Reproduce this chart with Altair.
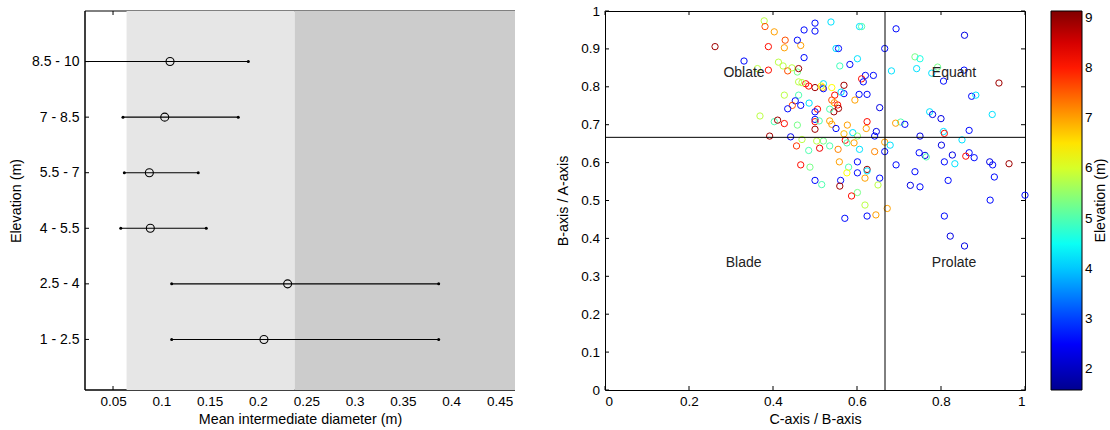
import altair as alt
import pandas as pd

FONT = "Liberation Sans, Arial, Helvetica, sans-serif"

# ---------------- Left panel data ----------------
elev_bins = ["8.5 - 10", "7 - 8.5", "5.5 - 7", "4 - 5.5", "2.5 - 4", "1 - 2.5"]
mean_diam = [0.109, 0.1035, 0.0876, 0.0886, 0.2307, 0.2062]
low_diam = [0.012, 0.0603, 0.0617, 0.0580, 0.1107, 0.1107]
high_diam = [0.190, 0.1796, 0.1382, 0.1465, 0.387, 0.387]
x_ticks_left = [0.05, 0.1, 0.15, 0.2, 0.25, 0.3, 0.35, 0.4, 0.45]
x_domain_left = [0.021, 0.466]
band_start = [0.064, 0.238]
band_end = [0.238, 0.466]
band_color = ["#e6e6e6", "#cccccc"]

# ---------------- Right panel data ----------------
cb_ratio = [
    0.379, 0.381, 0.403, 0.389, 0.429, 0.427, 0.466, 0.458, 0.474, 0.500,
    0.500, 0.538, 0.606, 0.611, 0.550, 0.556, 0.666, 0.693, 0.856, 0.262,
    0.331, 0.363, 0.389, 0.413, 0.424, 0.435, 0.445, 0.458, 0.461, 0.474,
    0.559, 0.583, 0.601, 0.620, 0.639, 0.611, 0.615, 0.682, 0.738, 0.750,
    0.742, 0.792, 0.778, 0.806, 0.855, 0.938, 0.873, 0.883, 0.922, 0.773,
    0.780, 0.800, 0.704, 0.714, 0.692, 0.867, 0.806, 0.808, 0.750, 0.850,
    0.666, 0.666, 0.679, 0.801, 0.748, 0.762, 0.765, 0.827, 0.867, 0.859,
    0.879, 0.808, 0.833, 0.916, 0.923, 0.962, 0.927, 0.693, 0.738, 0.727,
    0.750, 0.817, 1.000, 0.917, 0.654, 0.650, 0.642, 0.654, 0.646, 0.642,
    0.622, 0.624, 0.595, 0.569, 0.569, 0.562, 0.605, 0.624, 0.547, 0.540,
    0.546, 0.554, 0.556, 0.545, 0.535, 0.540, 0.520, 0.518, 0.500, 0.520,
    0.515, 0.478, 0.485, 0.461, 0.469, 0.427, 0.461, 0.453, 0.466, 0.486,
    0.446, 0.435, 0.506, 0.500, 0.500, 0.500, 0.500, 0.510, 0.535, 0.540,
    0.550, 0.577, 0.569, 0.590, 0.601, 0.572, 0.576, 0.593, 0.606, 0.555,
    0.535, 0.520, 0.504, 0.511, 0.485, 0.456, 0.469, 0.442, 0.392, 0.369,
    0.403, 0.411, 0.427, 0.458, 0.466, 0.488, 0.558, 0.601, 0.580, 0.576,
    0.601, 0.624, 0.624, 0.619, 0.500, 0.516, 0.561, 0.559, 0.601, 0.587,
    0.571, 0.624, 0.645, 0.619, 0.672, 0.808, 0.822, 0.856,
]
ba_ratio = [
    0.974, 0.959, 0.945, 0.906, 0.923, 0.903, 0.909, 0.923, 0.950, 0.968,
    0.947, 0.971, 0.959, 0.959, 0.901, 0.901, 0.901, 0.953, 0.936, 0.906,
    0.868, 0.848, 0.844, 0.865, 0.855, 0.842, 0.850, 0.839, 0.848, 0.877,
    0.855, 0.859, 0.874, 0.830, 0.830, 0.821, 0.813, 0.842, 0.879, 0.874,
    0.848, 0.852, 0.836, 0.815, 0.844, 0.810, 0.775, 0.778, 0.727, 0.734,
    0.727, 0.716, 0.707, 0.701, 0.704, 0.685, 0.682, 0.677, 0.670, 0.660,
    0.654, 0.629, 0.646, 0.646, 0.626, 0.619, 0.615, 0.620, 0.626, 0.617,
    0.613, 0.602, 0.597, 0.602, 0.594, 0.597, 0.562, 0.594, 0.576, 0.540,
    0.536, 0.553, 0.514, 0.501, 0.559, 0.541, 0.629, 0.745, 0.682, 0.670,
    0.690, 0.708, 0.765, 0.804, 0.782, 0.786, 0.780, 0.780, 0.778, 0.765,
    0.758, 0.752, 0.743, 0.734, 0.741, 0.798, 0.808, 0.798, 0.798, 0.795,
    0.802, 0.808, 0.802, 0.813, 0.811, 0.778, 0.778, 0.763, 0.751, 0.757,
    0.751, 0.742, 0.741, 0.734, 0.714, 0.708, 0.688, 0.710, 0.710, 0.701,
    0.690, 0.699, 0.676, 0.679, 0.670, 0.659, 0.652, 0.652, 0.635, 0.635,
    0.644, 0.657, 0.657, 0.638, 0.632, 0.644, 0.661, 0.668, 0.670, 0.723,
    0.708, 0.712, 0.703, 0.699, 0.594, 0.588, 0.602, 0.602, 0.588, 0.573,
    0.573, 0.582, 0.578, 0.559, 0.553, 0.542, 0.553, 0.538, 0.521, 0.512,
    0.453, 0.459, 0.462, 0.488, 0.479, 0.459, 0.406, 0.380,
]
elevation = [
    5.8, 7.6, 7.0, 8.1, 7.6, 7.0, 7.0, 2.6, 2.6, 2.6,
    2.6, 4.2, 4.2, 5.0, 4.2, 2.6, 2.6, 2.6, 2.3, 8.9,
    2.6, 5.8, 8.1, 5.8, 5.8, 7.6, 5.8, 5.3, 8.9, 2.6,
    4.9, 2.6, 4.2, 2.6, 2.6, 8.1, 2.6, 4.2, 5.3, 4.6,
    4.2, 5.3, 4.2, 2.6, 2.6, 8.9, 2.6, 4.2, 4.2, 4.2,
    2.3, 2.3, 5.0, 2.6, 7.0, 2.6, 4.2, 8.1, 2.3, 4.2,
    7.0, 2.6, 4.2, 2.3, 2.6, 2.3, 5.0, 2.3, 2.6, 8.1,
    2.6, 2.6, 4.2, 2.3, 2.6, 8.9, 2.6, 2.6, 2.6, 2.3,
    2.6, 2.6, 2.6, 2.6, 2.6, 5.8, 7.2, 2.3, 2.3, 2.6,
    7.0, 8.1, 7.0, 8.9, 2.6, 4.2, 2.6, 2.6, 8.1, 7.6,
    7.0, 8.1, 8.9, 8.9, 5.0, 6.3, 4.2, 7.0, 8.9, 2.6,
    6.3, 8.1, 8.1, 5.8, 5.8, 5.8, 5.0, 2.6, 2.6, 4.2,
    7.6, 2.6, 8.1, 2.6, 2.6, 8.1, 8.9, 5.0, 7.0, 7.0,
    2.6, 7.0, 6.8, 4.2, 5.5, 8.1, 5.0, 7.0, 4.2, 7.2,
    5.0, 5.3, 5.8, 8.3, 5.0, 7.8, 5.8, 2.4, 8.9, 5.8,
    5.0, 8.9, 8.1, 5.3, 8.1, 5.3, 7.0, 2.6, 5.0, 6.3,
    2.6, 8.9, 4.2, 7.0, 2.6, 5.0, 2.6, 8.9, 5.3, 8.1,
    2.6, 2.6, 7.0, 5.8, 7.0, 2.6, 2.3, 2.3,
]
region_names = ["Oblate", "Equant", "Blade", "Prolate"]
region_x = [0.331, 0.831, 0.330, 0.831]
region_y = [0.837, 0.837, 0.336, 0.336]
thresholds = [2 / 3]
x_ticks_right = [0, 0.2, 0.4, 0.6, 0.8, 1]
y_ticks_right = [0, 0.1, 0.2, 0.3, 0.4, 0.5, 0.6, 0.7, 0.8, 0.9, 1]
cbar_ticks = [2, 3, 4, 5, 6, 7, 8, 9]
cbar_domain = [1.59, 9.13]
jet_colors = ["#000090", "#0000ff", "#00ffff", "#ffff00", "#ff0000", "#800000"]

# ---------------- sizes ----------------
H = 379
W1 = 430
W2 = 420
TICK = 4

one = pd.DataFrame({"a": [0]})

# ================= LEFT PANEL =================
xs_l = alt.Scale(domain=x_domain_left, nice=False, zero=False)
ys_l = alt.Scale(type="point", padding=0.91, domain=elev_bins)
ax_x_l = alt.Axis(values=x_ticks_left, format="~g", title="Mean intermediate diameter (m)",
                  labelPadding=4, titlePadding=5)
ax_y_l = alt.Axis(title="Elevation (m)", labelPadding=6, titlePadding=8.5, labelFontSize=14)


def XL(f):
    return alt.X(f, scale=xs_l, axis=ax_x_l)


def YL(f):
    return alt.Y(f, scale=ys_l, axis=ax_y_l, sort=elev_bins)


bars_df = pd.DataFrame({"elev": elev_bins, "mean": mean_diam, "lo": low_diam, "hi": high_diam})
ends_df = pd.DataFrame({"elev": elev_bins * 2, "d": low_diam + high_diam})
bands_df = pd.DataFrame({"x0": band_start, "x1": band_end, "c": band_color})
xt_l_df = pd.DataFrame({"t": x_ticks_left})
yt_l_df = pd.DataFrame({"elev": elev_bins})

frame_left = alt.Chart(one).mark_rule(color="black", strokeWidth=1.5).encode(
    x=alt.value(0), y=alt.value(0), y2=alt.value(H))
frame_top = alt.Chart(one).mark_rule(color="black", strokeWidth=1).encode(
    x=alt.value(0), x2=alt.value(W1), y=alt.value(0))
frame_bottom = alt.Chart(one).mark_rule(color="black", strokeWidth=1.5).encode(
    x=alt.value(0), x2=alt.value(W1), y=alt.value(H))
xt_bot_l = alt.Chart(xt_l_df).mark_rule(color="black").encode(
    x=XL("t:Q"), y=alt.value(H), y2=alt.value(H - TICK))
xt_top_l = alt.Chart(xt_l_df).mark_rule(color="black").encode(
    x=XL("t:Q"), y=alt.value(0), y2=alt.value(TICK))
yt_l = alt.Chart(yt_l_df).mark_rule(color="black").encode(
    y=YL("elev:N"), x=alt.value(0), x2=alt.value(TICK))

bands = alt.Chart(bands_df).mark_rect().encode(
    x=XL("x0:Q"), x2="x1:Q",
    y=alt.value(0), y2=alt.value(H),
    color=alt.Color("c:N", scale=None))

errbars = alt.Chart(bars_df).mark_rule(color="black", strokeWidth=1.1, clip=True).encode(
    x=XL("lo:Q"), x2="hi:Q", y=YL("elev:N"))

ends = alt.Chart(ends_df).mark_circle(color="black", size=9, opacity=1, clip=True).encode(
    x=XL("d:Q"), y=YL("elev:N"))

means = alt.Chart(bars_df).mark_point(shape="circle", filled=False, size=64, strokeWidth=1.1,
                                      color="black", opacity=1).encode(
    x=XL("mean:Q"), y=YL("elev:N"))

left = alt.layer(frame_left, frame_top, frame_bottom, xt_bot_l, xt_top_l, yt_l,
                 bands, errbars, ends, means).properties(width=W1, height=H)

# ================= RIGHT PANEL =================
xs_r = alt.Scale(domain=[0, 1], nice=False, zero=False)
ys_r = alt.Scale(domain=[0, 1], nice=False, zero=False)
ax_x_r = alt.Axis(values=x_ticks_right, format="~g", title="C-axis / B-axis",
                  labelPadding=4, titlePadding=5)
ax_y_r = alt.Axis(values=y_ticks_right, format="~g", title="B-axis / A-axis",
                  labelPadding=5.5, titlePadding=10)


def XR(f):
    return alt.X(f, scale=xs_r, axis=ax_x_r)


def YR(f):
    return alt.Y(f, scale=ys_r, axis=ax_y_r)


span = cbar_domain[1] - cbar_domain[0]
jet_domain = [cbar_domain[0] + f * span for f in [0, 0.125, 0.375, 0.625, 0.875, 1.0]]
jet = alt.Scale(domain=jet_domain, range=jet_colors, interpolate="rgb")

sc_df = pd.DataFrame({"cb": cb_ratio, "ba": ba_ratio, "elev": elevation})
reg_df = pd.DataFrame({"name": region_names, "rx": region_x, "ry": region_y})
thr_df = pd.DataFrame({"v": thresholds})
xt_r_df = pd.DataFrame({"t": x_ticks_right})
yt_r_df = pd.DataFrame({"t": y_ticks_right})

pts = alt.Chart(sc_df).mark_point(shape="circle", filled=False, size=40, strokeWidth=1,
                                  opacity=1).encode(
    x=XR("cb:Q"), y=YR("ba:Q"),
    color=alt.Color("elev:Q", scale=jet, title=None,
                    legend=alt.Legend(orient="none", legendX=966, legendY=0,
                                      direction="vertical", gradientLength=H,
                                      gradientThickness=31, values=cbar_ticks,
                                      labelFontSize=13.5, labelFont=FONT, labelColor="black",
                                      labelOffset=3, gradientStrokeColor="black",
                                      gradientStrokeWidth=1, padding=0)))

vline = alt.Chart(thr_df).mark_rule(color="black", strokeWidth=1).encode(x=XR("v:Q"))
hline = alt.Chart(thr_df).mark_rule(color="black", strokeWidth=1).encode(y=YR("v:Q"))

labels = alt.Chart(reg_df).mark_text(font=FONT, fontSize=14, color="#222222").encode(
    x=XR("rx:Q"), y=YR("ry:Q"), text="name:N")

xt_bot_r = alt.Chart(xt_r_df).mark_rule(color="black").encode(
    x=XR("t:Q"), y=alt.value(H), y2=alt.value(H - TICK))
xt_top_r = alt.Chart(xt_r_df).mark_rule(color="black").encode(
    x=XR("t:Q"), y=alt.value(0), y2=alt.value(TICK))
yt_left_r = alt.Chart(yt_r_df).mark_rule(color="black").encode(
    y=YR("t:Q"), x=alt.value(0), x2=alt.value(TICK))
yt_right_r = alt.Chart(yt_r_df).mark_rule(color="black").encode(
    y=YR("t:Q"), x=alt.value(W2), x2=alt.value(W2 - TICK))

cbar_title = alt.Chart(one).mark_text(text="Elevation (m)", angle=270, font=FONT,
                                      fontSize=14.3, color="black").encode(
    x=alt.value(W2 + 76), y=alt.value(H / 2))

right = alt.layer(pts, vline, hline, labels, xt_bot_r, xt_top_r, yt_left_r, yt_right_r,
                  cbar_title).properties(
    width=W2, height=H, view=alt.ViewBackground(stroke="black", strokeWidth=1))

chart = alt.hconcat(left, right, spacing=40).properties(
    padding={"left": 9, "top": 3, "right": 0, "bottom": 4}, background="white"
).configure_view(stroke=None).configure_axis(
    labelFont=FONT, titleFont=FONT, labelFontSize=13.5, titleFontSize=14.3,
    labelColor="black", titleColor="black", titleFontWeight="normal",
    domain=False, ticks=False, grid=False,
)

chart.save("out.html", embed_options={"renderer": "svg", "actions": False})
